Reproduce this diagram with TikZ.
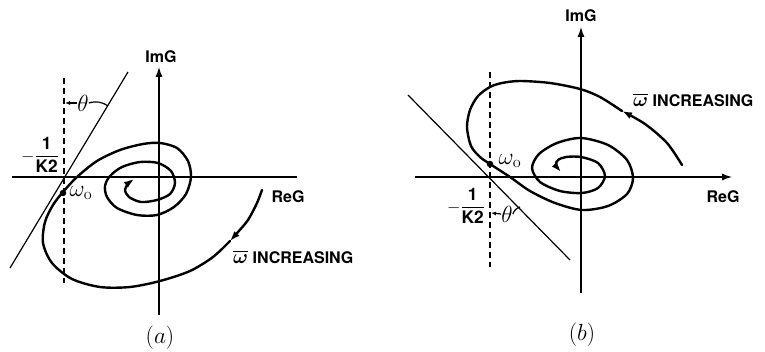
\documentclass[tikz,border=0pt]{standalone}
\usepackage{amsmath}
\usepackage{fontspec}
\setsansfont{TeX Gyre Heros}
\usepackage{tikz}
\usetikzlibrary{positioning, arrows.meta}
\tikzset{
  nyq/.style={line width=2.4pt, line cap=round, line join=round},
  axis/.style={line width=1.2pt},
  guide/.style={line width=1.2pt, dash pattern=on 6pt off 4pt},
  tang/.style={line width=1.2pt},
  tip/.style={-{Latex[length=10pt,width=7pt]}},
  lbl/.style={font=\sffamily\bfseries\fontsize{16}{19}\selectfont, inner sep=0pt},
  mth/.style={font=\LARGE, inner sep=0pt},
  dot/.style={circle, fill, inner sep=0pt, minimum size=6.5pt}
}
\newcommand{\mlbl}[1]{\scalebox{1.35}{$#1$}}
\newcommand{\wbar}{\scalebox{1.15}{$\overline{\boldsymbol{\omega}}$}}

\begin{document}
\begin{tikzpicture}[x=1pt,y=-1pt]
\useasboundingbox (0,0) rectangle (765,352);
% (a)
\coordinate (aimtop) at (159,67);
\coordinate (aimbot) at (159,315);
\coordinate (areleft) at (12,177);
\coordinate (areright) at (297,177);
\coordinate (adashtop) at (64,78);
\coordinate (adashbot) at (64,283);
\coordinate (atantop) at (128,72);
\coordinate (atanbot) at (10,268);
\draw[axis, tip] (aimbot) -- (aimtop);
\draw[axis] (areleft) -- (areright);
\draw[guide] (adashtop) -- (adashbot);
\draw[tang] (atanbot) -- (atantop);
\node[lbl] (aimg) at (161,57) {ImG};
\node[lbl] (areg) at (288,197) {ReG};
\draw[nyq, tip] plot[smooth] coordinates {(262,190) (257,203) (248,220) (238,232) (230,241)};
\draw[nyq, tip] plot[smooth] coordinates {(230,241) (213,257) (190,271) (160,281) (130,287) (100,287)
  (72,279) (52,263) (43,243) (45,222) (53,205) (63,192) (77,177) (97,161) (120,150) (143,144)
  (160,143) (177,148) (188,161) (191,177) (186,194) (174,207) (157,215) (137,215) (117,208)
  (107,197) (105,186) (110,176) (122,167) (140,162) (158,163) (171,171) (175,183) (170,194)
  (157,200) (141,202) (129,197) (125,190) (128,184) (134,179)};
\node[dot] (aw) at (63,193) {};
\node[mth, right=3pt of aw] (awlbl) {\mlbl{\omega_{\mathrm{o}}}};
\node[mth] (ak) at (40,155) {$-\dfrac{\textsf{\bfseries 1}}{\textsf{\bfseries K2}}$};
\node[mth] (ath) at (83,103) {\mlbl{\theta}};
\coordinate (athdash) at (65,103);
\coordinate (athtan) at (108,106);
\draw[tang, -{Latex[length=5pt,width=4pt]}] (ath.west) -- (athdash);
\draw[tang] (ath.east) to[bend left=25] (athtan);
\node[lbl, anchor=west] (ainc) at (233,257) {\wbar\ INCREASING};
\node[mth] (acap) at (160,338) {\mlbl{(a)}};
% (b)
\coordinate (bimtop) at (581,27);
\coordinate (bimbot) at (581,293);
\coordinate (breleft) at (415,177);
\coordinate (breright) at (732,177);
\coordinate (bdashtop) at (490,72);
\coordinate (bdashbot) at (490,267);
\coordinate (btantop) at (408,95);
\coordinate (btanbot) at (570,260);
\draw[axis, tip] (bimbot) -- (bimtop);
\draw[axis, tip] (breleft) -- (breright);
\draw[guide] (bdashtop) -- (bdashbot);
\draw[tang] (btantop) -- (btanbot);
\node[lbl] (bimg) at (581,16) {ImG};
\node[lbl] (breg) at (723,197) {ReG};
\draw[nyq, tip] plot[smooth] coordinates {(682,165) (667,143) (645,124) (622,111)};
\draw[nyq, tip] plot[smooth] coordinates {(622,111) (600,97) (580,89) (550,83) (520,81)
  (502,83) (490,87) (478,96) (470,110) (467,127) (471,146) (480,157) (490,164) (510,177)
  (530,191) (555,203) (582,210) (608,206) (627,194) (633,178) (627,160) (608,145) (581,138)
  (557,143) (539,154) (532,168) (540,182) (560,191) (582,193) (598,188) (605,176) (598,163)
  (581,157) (566,157) (558,160) (556,165) (561,172)};
\node[dot] (bw) at (490,164) {};
\node[mth, right=5pt of bw, yshift=3pt] (bwlbl) {\mlbl{\omega_{\mathrm{o}}}};
\node[mth] (bk) at (466,206) {$-\dfrac{\textsf{\bfseries 1}}{\textsf{\bfseries K2}}$};
\node[mth] (bth) at (507,214) {\mlbl{\theta}};
\coordinate (bthdash) at (491,213);
\coordinate (bthtan) at (520,207);
\draw[tang, -{Latex[length=5pt,width=4pt]}] (bth.west) -- (bthdash);
\draw[tang] (bth.east) to[bend left=25] (bthtan);
\node[lbl, anchor=west] (binc) at (633,100) {\wbar\ INCREASING};
\node[mth] (bcap) at (582,335) {\mlbl{(b)}};
\end{tikzpicture}
\end{document}
